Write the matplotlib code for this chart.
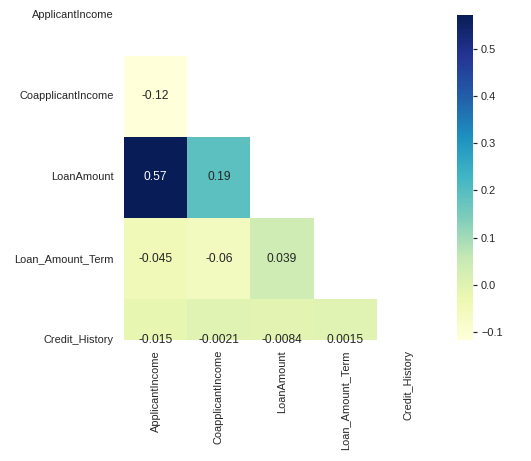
import numpy as np
import pandas as pd
import matplotlib
matplotlib.use("Agg")
import matplotlib.pyplot as plt
import seaborn as sns

labels = ["ApplicantIncome", "CoapplicantIncome", "LoanAmount", "Loan_Amount_Term", "Credit_History"]
corr_values = [
    [1.0,       -0.116605, 0.570909, -0.045306, -0.014715],
    [-0.116605, 1.0,       0.188619, -0.059878, -0.002056],
    [0.570909,  0.188619,  1.0,      0.039447,  -0.008433],
    [-0.045306, -0.059878, 0.039447, 1.0,        0.001470],
    [-0.014715, -0.002056, -0.008433, 0.001470,  1.0],
]
cbar_ticks = [-0.1, 0.0, 0.1, 0.2, 0.3, 0.4, 0.5]

sns.set_style("white")
plt.rcParams['font.family'] = ['Liberation Sans', 'DejaVu Sans']
plt.rcParams['font.size'] = 12

corr = pd.DataFrame(corr_values, index=labels, columns=labels)
mask = np.triu(np.ones_like(corr.values, dtype=bool))

fig = plt.figure(figsize=(531/72, 461/72), dpi=72)
pos = [124/531, 1-340/461, (440-124)/531, (340-15)/461]
ax = fig.add_axes(pos)
cax = fig.add_axes([457/531, 1-340/461, (473-457)/531, (340-15)/461])

sns.heatmap(corr, mask=mask, cmap="YlGnBu", annot=True, ax=ax, cbar_ax=cax,
            annot_kws={"fontsize": 12})
ax.set_ylim(4.5, 0.5)
ax.set_aspect('auto')
ax.set_position(pos)
ax.tick_params(length=0, labelsize=11, colors='.15', pad=10)
ax.set_yticklabels(labels, rotation=0)
ax.set_xticklabels(labels, rotation=90)
cax.set_yticks(cbar_ticks)
cax.tick_params(length=4, width=1.2, labelsize=11, colors='.15', pad=4)
for s in cax.spines.values():
    s.set_visible(False)

fig.savefig("out.png", dpi=72)
